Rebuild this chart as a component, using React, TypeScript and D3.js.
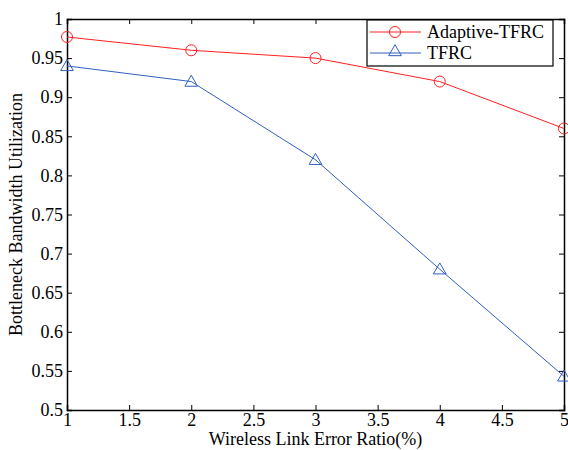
import React, { useEffect, useRef } from 'react';
import * as d3 from 'd3';

const errorRatios = [1, 2, 3, 4, 5];
const adaptiveTfrc = [0.977, 0.96, 0.95, 0.92, 0.86];
const tfrc = [0.94, 0.92, 0.82, 0.68, 0.543];
const xTicks = [1, 1.5, 2, 2.5, 3, 3.5, 4, 4.5, 5];
const yTicks = [0.5, 0.55, 0.6, 0.65, 0.7, 0.75, 0.8, 0.85, 0.9, 0.95, 1];

const App: React.FC = () => {
  const svgRef = useRef<SVGSVGElement | null>(null);

  useEffect(() => {
    if (!svgRef.current) return;
    const svg = d3.select(svgRef.current);
    svg.selectAll('*').remove();

    const width = 568;
    const height = 450;
    const margin = { top: 19, right: 4, bottom: 40, left: 67 };
    const innerW = width - margin.left - margin.right;
    const innerH = height - margin.top - margin.bottom;
    const font = '"Liberation Serif", "Times New Roman", serif';

    const x = d3.scaleLinear().domain([1, 5]).range([0, innerW]);
    const y = d3.scaleLinear().domain([0.5, 1]).range([innerH, 0]);

    svg.append('rect').attr('width', width).attr('height', height).attr('fill', '#fff');

    const g = svg.append('g').attr('transform', `translate(${margin.left},${margin.top})`);

    // axes with inward ticks
    const fmt = (d: d3.NumberValue) => d3.format('')(+d);
    const bottom = g.append('g').attr('transform', `translate(0,${innerH})`)
      .call(d3.axisBottom(x).tickValues(xTicks).tickSize(-5).tickPadding(3).tickFormat(fmt));
    const left = g.append('g')
      .call(d3.axisLeft(y).tickValues(yTicks).tickSize(-5).tickPadding(4).tickFormat(fmt));
    const top = g.append('g')
      .call(d3.axisTop(x).tickValues(xTicks).tickSize(-5).tickFormat(() => ''));
    const right = g.append('g').attr('transform', `translate(${innerW},0)`)
      .call(d3.axisRight(y).tickValues(yTicks).tickSize(-5).tickFormat(() => ''));

    [bottom, left, top, right].forEach(a => {
      a.attr('font-family', null).attr('font-size', null);
      a.select('.domain').attr('stroke', '#000').attr('stroke-width', 1.5);
      a.selectAll('.tick line').attr('stroke', '#000');
      a.selectAll('text').style('font-family', font).style('font-size', '18px').attr('fill', '#000');
    });

    const line = d3.line<number>().x((_, i) => x(errorRatios[i])).y(d => y(d));

    const red = '#ff2020';
    const blue = '#3060c0';

    g.append('path').datum(adaptiveTfrc).attr('d', line).attr('fill', 'none').attr('stroke', red).attr('stroke-width', 1);
    g.append('path').datum(tfrc).attr('d', line).attr('fill', 'none').attr('stroke', blue).attr('stroke-width', 1);

    g.selectAll('.circ').data(adaptiveTfrc).enter().append('circle')
      .attr('cx', (_, i) => x(errorRatios[i])).attr('cy', d => y(d)).attr('r', 5.5)
      .attr('fill', 'none').attr('stroke', red).attr('stroke-width', 1);

    const tri = d3.symbol().type(d3.symbolTriangle).size(70);
    g.selectAll('.tri').data(tfrc).enter().append('path')
      .attr('d', tri).attr('transform', (d, i) => `translate(${x(errorRatios[i])},${y(d) + 1})`)
      .attr('fill', 'none').attr('stroke', blue).attr('stroke-width', 1);

    // legend
    const lg = svg.append('g').attr('transform', 'translate(367,20)');
    lg.append('rect').attr('width', 186).attr('height', 46).attr('fill', '#fff').attr('stroke', '#000').attr('stroke-width', 1.2);
    const items = [
      { name: 'Adaptive-TFRC', color: red, shape: 'circle' },
      { name: 'TFRC', color: blue, shape: 'tri' },
    ];
    items.forEach((it, i) => {
      const cy = 12 + i * 21;
      lg.append('line').attr('x1', 3).attr('x2', 54).attr('y1', cy).attr('y2', cy).attr('stroke', it.color);
      if (it.shape === 'circle') {
        lg.append('circle').attr('cx', 28).attr('cy', cy).attr('r', 5.5).attr('fill', 'none').attr('stroke', it.color);
      } else {
        lg.append('path').attr('d', tri).attr('transform', `translate(28,${cy - 1})`).attr('fill', 'none').attr('stroke', it.color);
      }
      lg.append('text').attr('x', 60).attr('y', cy + 6).text(it.name)
        .style('font-family', font).style('font-size', '18px').attr('fill', '#000');
    });

    // axis titles
    svg.append('text').attr('x', margin.left + innerW / 2).attr('y', 445).attr('text-anchor', 'middle')
      .style('font-family', font).style('font-size', '18px').text('Wireless Link Error Ratio(%)');
    svg.append('text').attr('transform', `translate(22,${margin.top + innerH / 2}) rotate(-90)`)
      .attr('text-anchor', 'middle').style('font-family', font).style('font-size', '18px')
      .text('Bottleneck Bandwidth Utilization');
  }, []);

  return <svg ref={svgRef} width={568} height={450} style={{ position: 'absolute', left: 0, top: 0 }} />;
};

export default App;
